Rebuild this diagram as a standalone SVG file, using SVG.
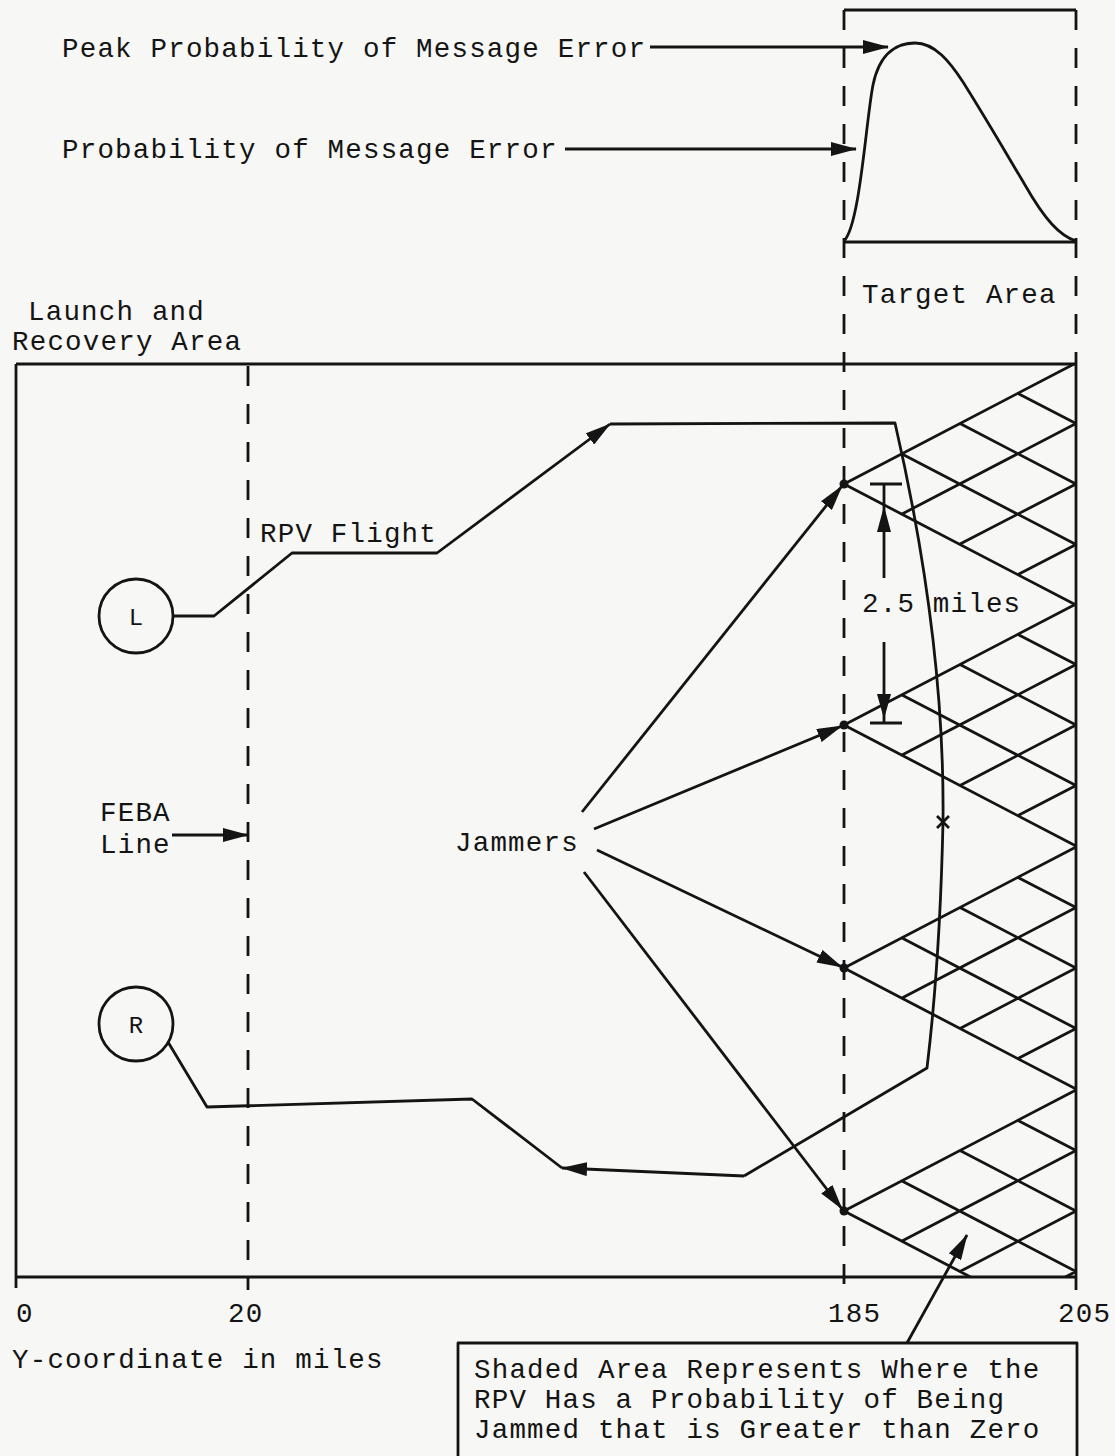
<svg xmlns="http://www.w3.org/2000/svg" width="1115" height="1456" viewBox="0 0 1115 1456">
<defs>
<style>
.t{font-family:"Liberation Mono","DejaVu Sans Mono",monospace;font-size:27.5px;letter-spacing:1.2px;fill:#141414}
.s{font-size:24px;letter-spacing:0}
.ln{fill:none;stroke:#141414;stroke-width:2.8;stroke-linejoin:round}
.th{fill:none;stroke:#141414;stroke-width:2.8}
.ds{fill:none;stroke:#141414;stroke-width:2.8;stroke-dasharray:20 18}
.ar{marker-end:url(#ah)}
</style>
<marker id="ah" markerUnits="userSpaceOnUse" markerWidth="26" markerHeight="14" refX="25" refY="7" orient="auto" viewBox="0 0 26 14">
<path d="M0,0 L26,7 L0,14 Z" fill="#141414"/>
</marker>
<clipPath id="hc"><rect x="843" y="363" width="234" height="915"/></clipPath>
</defs>
<rect x="0" y="0" width="1115" height="1456" fill="#f7f7f5"/>

<g id="frame">
<path class="ln" d="M16,364 L1076,364 M16,364 L16,1288 M16,1277 L1076,1277 M1076,364 L1076,1290"/>
<path class="ds" d="M248,366 L248,1290"/>
<path class="ds" d="M844,10 L844,1290"/>
<path class="ds" d="M1076,10 L1076,364"/>
</g>

<g id="chart">
<path class="ln" d="M844,10 L1076,10 M844,242 L1076,242"/>
<path class="ln" d="M844,241 C860,225 866,120 873,85 C880,50 900,43 915,43 C935,43 950,62 963,82 C990,125 1010,160 1025,185 C1045,220 1060,236 1076,241"/>
</g>

<g id="hatch" clip-path="url(#hc)">
<path class="th" d="M844,484 L1076,363 M844,484 L1076,605 M902,514 L1076,423.5 M960,544 L1076,484 M1018,574.5 L1076,544.5 M902,454 L1076,544.5 M960,423.5 L1076,484 M1018,393.5 L1076,423.5"/>
<path class="th" d="M844,725 L1076,604 M844,725 L1076,846 M902,755 L1076,664.5 M960,785.5 L1076,725 M1018,815.5 L1076,785.5 M902,695 L1076,785.5 M960,664.5 L1076,725 M1018,634.5 L1076,664.5"/>
<path class="th" d="M844,968 L1076,847 M844,968 L1076,1089 M902,998 L1076,907.5 M960,1028.5 L1076,968 M1018,1058.5 L1076,1028.5 M902,938 L1076,1028.5 M960,907.5 L1076,968 M1018,877.5 L1076,907.5"/>
<path class="th" d="M844,1211 L1076,1090 M844,1211 L1076,1332 M902,1241 L1076,1150.5 M960,1271.5 L1076,1211 M1018,1301.5 L1076,1271.5 M902,1181 L1076,1271.5 M960,1150.5 L1076,1211 M1018,1120.5 L1076,1150.5"/>
</g>

<g id="jammer-points" fill="#141414">
<circle cx="844" cy="484" r="4.5"/>
<circle cx="844" cy="725" r="4.5"/>
<circle cx="844" cy="968" r="4.5"/>
<circle cx="844" cy="1211" r="4.5"/>
</g>

<g id="node-L">
<circle class="ln" cx="136" cy="616" r="37"/>
<text class="t s" x="136" y="625" text-anchor="middle">L</text>
</g>
<g id="node-R">
<circle class="ln" cx="136" cy="1024" r="37"/>
<text class="t s" x="136" y="1033" text-anchor="middle">R</text>
</g>

<g id="dimension">
<path class="ln" d="M870,484 L902,484 M870,723 L902,723 M884,484 L884,578 M884,642 L884,723"/>
<path d="M884,506 L877,532 L891,532 Z M884,719 L877,694 L891,694 Z" fill="#141414"/>
</g>

<g id="connectors">
<path class="ln ar" d="M650,47 L888,47"/>
<path class="ln ar" d="M565,149 L856,149"/>
<path class="ln ar" d="M172,835 L248,835"/>
<path class="ln ar" d="M173,616 L214,616 L292,553 L437,553 L610,424"/>
<path class="ln" d="M610,424 L895,423 Q945,640 943,822 Q940,960 927,1068 L744,1176"/>
<path class="ln ar" d="M744,1176 L562,1168"/>
<path class="ln" d="M562,1168 L472,1099 L207,1107 L168,1042"/>
<path class="ln" d="M937,816 L949,828 M949,816 L937,828"/>
<path class="ln ar" d="M582,812 L842,486"/>
<path class="ln ar" d="M594,829 L842,726"/>
<path class="ln ar" d="M597,850 L842,967"/>
<path class="ln ar" d="M584,872 L842,1209"/>
<path class="ln ar" d="M907,1343 L967,1235"/>
</g>

<g id="labels">
<text class="t" x="62" y="57">Peak Probability of Message Error</text>
<text class="t" x="62" y="158">Probability of Message Error</text>
<text class="t" x="862" y="303">Target Area</text>
<text class="t" x="28" y="320">Launch and</text>
<text class="t" x="12" y="350">Recovery Area</text>
<text class="t" x="260" y="542">RPV Flight</text>
<text class="t" x="862" y="612">2.5 miles</text>
<text class="t" x="100" y="821">FEBA</text>
<text class="t" x="100" y="853">Line</text>
<text class="t" x="455" y="851">Jammers</text>
<text class="t" x="16" y="1322">0</text>
<text class="t" x="228" y="1322">20</text>
<text class="t" x="828" y="1322">185</text>
<text class="t" x="1058" y="1322">205</text>
<text class="t" x="12" y="1368">Y-coordinate in miles</text>
</g>

<g id="note">
<path class="ln" d="M458,1460 L458,1343 L1077,1343 L1077,1460"/>
<text class="t" x="474" y="1378">Shaded Area Represents Where the</text>
<text class="t" x="474" y="1408">RPV Has a Probability of Being</text>
<text class="t" x="474" y="1438">Jammed that is Greater than Zero</text>
</g>
</svg>
